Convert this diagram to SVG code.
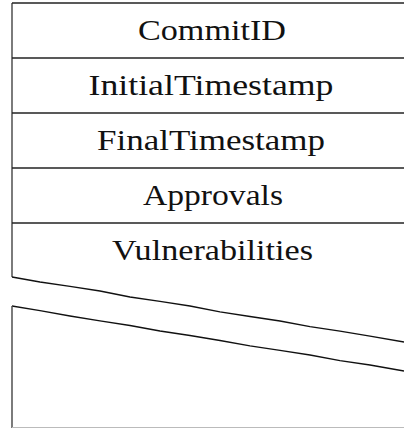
<svg xmlns="http://www.w3.org/2000/svg" width="404" height="428" viewBox="0 0 404 428">
  <style>
    .frame { fill: none; stroke: #222; stroke-width: 1.3; }
    .side { fill: none; stroke: #444; stroke-width: 1.4; }
    .tear { fill: none; stroke: #111; stroke-width: 1.3; stroke-linejoin: round; }
    .label { font-family: "Liberation Serif", "DejaVu Serif", serif; font-size: 29.5px; fill: #111; text-anchor: middle; }
  </style>
  <rect width="404" height="428" fill="#fff"/>

  <!-- upper part of the record: outline and field rows -->
  <g id="record-top">
    <path class="side" d="M12 3 V277"/>
    <path class="frame" d="M12 3 H404"/>
  </g>
  <g id="field-commitid">
    <text class="label" x="212" y="40" textLength="148" lengthAdjust="spacingAndGlyphs">CommitID</text>
    <path class="frame" d="M12 58 H404"/>
  </g>
  <g id="field-initialtimestamp">
    <text class="label" x="211" y="95" textLength="245" lengthAdjust="spacingAndGlyphs">InitialTimestamp</text>
    <path class="frame" d="M12 113 H404"/>
  </g>
  <g id="field-finaltimestamp">
    <text class="label" x="211" y="150" textLength="228" lengthAdjust="spacingAndGlyphs">FinalTimestamp</text>
    <path class="frame" d="M12 168 H404"/>
  </g>
  <g id="field-approvals">
    <text class="label" x="213" y="205" textLength="140" lengthAdjust="spacingAndGlyphs">Approvals</text>
    <path class="frame" d="M12 223 H404"/>
  </g>
  <g id="field-vulnerabilities">
    <text class="label" x="212.5" y="260" textLength="201" lengthAdjust="spacingAndGlyphs">Vulnerabilities</text>
  </g>

  <!-- torn edges separating the two parts -->
  <g id="tear">
    <path class="tear" d="M12 277 L40 282 L70 286.3 L100 291 L130 297 L160 301.3 L190 306 L220 311.8 L250 316.5 L280 321 L310 326.6 L340 331.2 L370 336.2 L404 342"/>
    <path class="tear" d="M12 306 L40 310.6 L70 316 L100 320.8 L130 325.5 L160 331 L190 335.5 L220 340.5 L250 345.8 L280 350.4 L310 355 L340 360.6 L370 365 L404 371"/>
  </g>

  <!-- lower part of the record -->
  <g id="record-bottom">
    <path class="side" d="M12 306 V428"/>
    <path d="M12 427.5 H404" fill="none" stroke="#bbb" stroke-width="1"/>
  </g>
</svg>
